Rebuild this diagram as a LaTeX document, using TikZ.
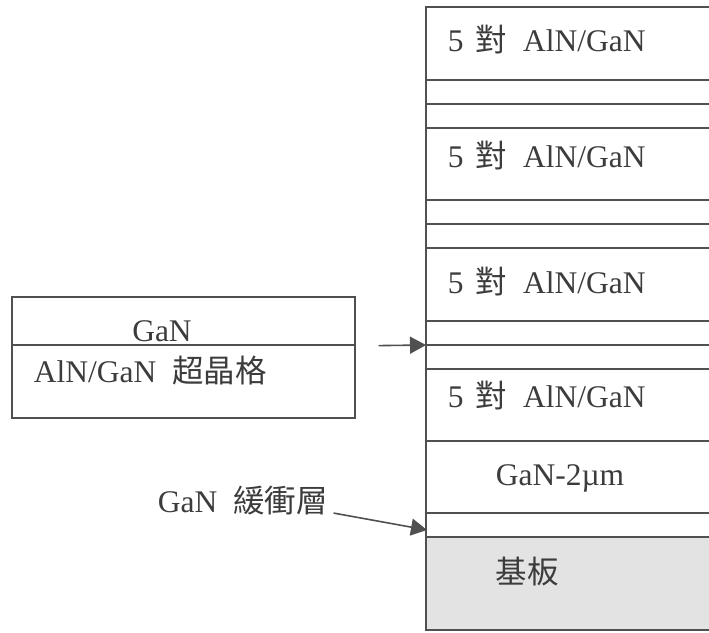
\documentclass[tikz,border=0pt]{standalone}
\usepackage{fontspec}
\setmainfont{Liberation Serif}
\newfontfamily\cjk{Noto Sans CJK TC}
\usetikzlibrary{arrows.meta}

\definecolor{inkline}{HTML}{505050}
\definecolor{inktext}{HTML}{3C3C3C}

\begin{document}
\begin{tikzpicture}[x=1pt,y=-1pt,line width=1.6pt,draw=inkline,
	txt/.style={inner sep=0pt,text=inktext,font=\fontsize{31.5}{33}\selectfont},
	arr/.style={draw=inkline,fill=inkline,arrows={-Triangle[length=16pt,width=17pt]}}]

		\clip (0,0) rectangle (709,632);
		\fill[white] (0,0) rectangle (709,632);

		% layer stack
		\fill[black!11] (426,537) rectangle (720,630);
		\foreach \ya/\yb in {7/80,80/104,104/128,128/200,200/224,224/248,248/321,
			321/345,345/369,369/441,441/513,513/537,537/630}
			\draw[inkline] (426,\ya) rectangle (720,\yb);

		\foreach \yb/\nm in {51/pa,167/pb,293/pc,407/pd}
			\node[txt,anchor=base west] (\nm) at (447,\yb) {5\hspace{12pt}{\cjk 對}\hspace{16pt}AlN/GaN};
		\node[txt,anchor=base west] (gan2) at (495,485) {GaN-2\textmu m};
		\node[txt] (sub) at (527,572) {\cjk 基板};

		% superlattice inset
		\node[draw=inkline,minimum width=343pt,minimum height=48pt,anchor=north west,inner sep=0pt] (ganbox) at (11,296) {};
		\node[draw=inkline,minimum width=343pt,minimum height=73pt,anchor=north west,inner sep=0pt] (slbox) at (11,344) {};
		\node[txt,anchor=base] (gantxt) at (162,341) {GaN};
		\node[txt,anchor=base west] (sltxt) at (33,382) {AlN/GaN\hspace{16pt}{\cjk 超晶格}};

		\coordinate (slin) at (426,345);
		\draw[arr] ([xshift=23pt]ganbox.south east) -- (slin);

		% buffer label
		\node[txt,anchor=base west] (buflbl) at (157,512) {GaN\hspace{16pt}{\cjk 緩衝層}};
		\coordinate (bufin) at (427,530);
		\draw[arr] ([shift={(5,13)}]buflbl.east) -- (bufin);

\end{tikzpicture}
\end{document}
